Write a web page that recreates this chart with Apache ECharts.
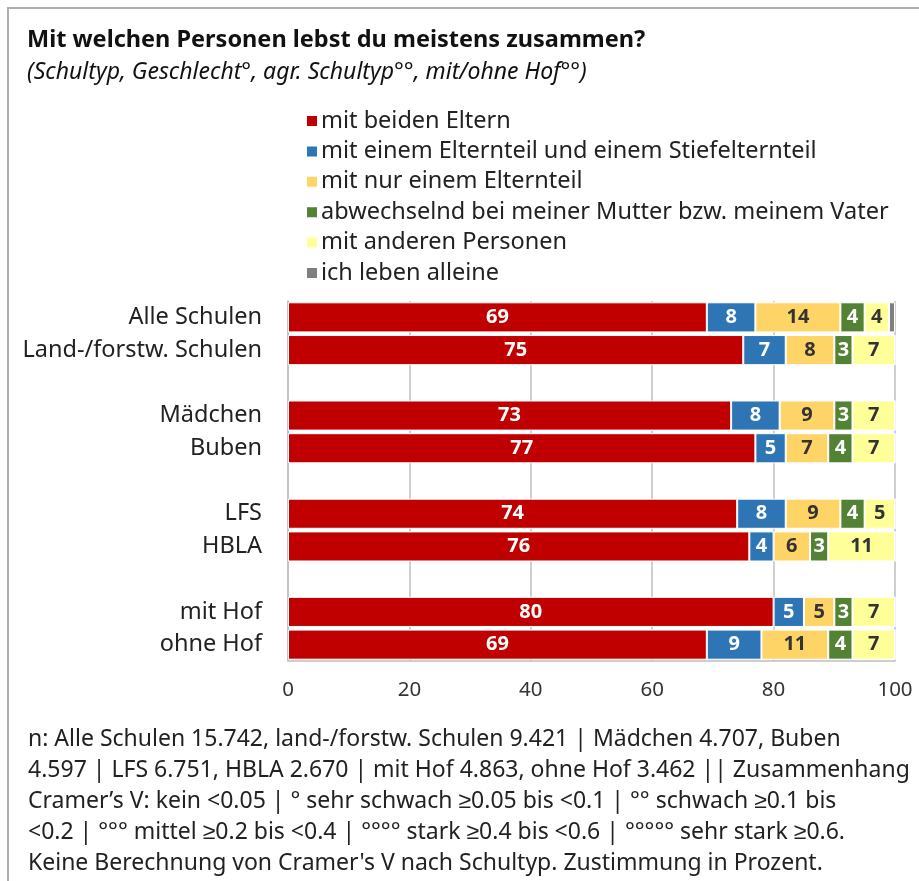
<!DOCTYPE html>
<html>
<head>
<meta charset="utf-8">
<script src="https://cdn.jsdelivr.net/npm/echarts@6/dist/echarts.min.js"></script>
<style>
  html, body { margin: 0; padding: 0; background: #fff; }
  #main { width: 919px; height: 881px; }
</style>
</head>
<body>
<div id="main"></div>
<script>
// Gruppen mit Leerzeilen dazwischen
const categories = ['Alle Schulen', 'Land-/forstw. Schulen', '', 'Mädchen', 'Buben', '', 'LFS', 'HBLA', '', 'mit Hof', 'ohne Hof']

const seriesNames = [
  'mit beiden Eltern',
  'mit einem Elternteil und einem Stiefelternteil',
  'mit nur einem Elternteil',
  'abwechselnd bei meiner Mutter bzw. meinem Vater',
  'mit anderen Personen',
  'ich leben alleine'
]

const beideEltern   = [69, 75, '-', 73, 77, '-', 74, 76, '-', 80, 69]
const stiefEltern   = [8, 7, '-', 8, 5, '-', 8, 4, '-', 5, 9]
const einElternteil = [14, 8, '-', 9, 7, '-', 9, 6, '-', 5, 11]
const abwechselnd   = [4, 3, '-', 3, 4, '-', 4, 3, '-', 3, 4]
const andere        = [4, 7, '-', 7, 7, '-', 5, 11, '-', 7, 7]
const alleine       = [1, 0, '-', 0, 0, '-', 0, 0, '-', 0, 0]

const xTicks = [0, 20, 40, 60, 80, 100]

const footer = [
  'n: Alle Schulen 15.742, land-/forstw. Schulen 9.421 | Mädchen 4.707, Buben',
  '4.597 | LFS 6.751, HBLA 2.670 | mit Hof 4.863, ohne Hof 3.462 || Zusammenhang',
  'Cramer’s V: kein <0.05 | ° sehr schwach ≥0.05 bis <0.1 | °° schwach ≥0.1 bis',
  '<0.2 | °°° mittel ≥0.2 bis <0.4 | °°°° stark ≥0.4 bis <0.6 | °°°°° sehr stark ≥0.6.',
  'Keine Berechnung von Cramer\'s V nach Schultyp. Zustimmung in Prozent.'
]

const colors = ['#C00000', '#2E75B6', '#FFD466', '#548235', '#FFFF99', '#7F7F7F']
const labelColors = ['#fff', '#fff', '#333', '#fff', '#333', '#333']
const font = '"Noto Sans", sans-serif'

const values = [beideEltern, stiefEltern, einElternteil, abwechselnd, andere, alleine]

const myChart = echarts.init(document.getElementById('main'))

const option = {
  animation: false,
  textStyle: { fontFamily: font },
  title: [{
    text: 'Mit welchen Personen lebst du meistens zusammen?',
    left: 22, top: 23,
    textStyle: { fontSize: 23.5, fontWeight: 'bold', color: '#111', fontFamily: font }
  }, {
    text: '(Schultyp, Geschlecht°, agr. Schultyp°°, mit/ohne Hof°°)',
    left: 22, top: 56,
    textStyle: { fontSize: 23, fontStyle: 'italic', fontWeight: 'normal', color: '#111', fontFamily: font }
  }],
  legend: {
    orient: 'vertical',
    left: 300, top: 104,
    itemWidth: 12, itemHeight: 12,
    itemGap: 6.4,
    icon: 'rect',
    data: seriesNames,
    textStyle: { fontSize: 23.5, lineHeight: 24, color: '#222', fontFamily: font, padding: [0, 0, 0, -2] }
  },
  grid: { left: 288, right: 24, top: 301, bottom: 220 },
  xAxis: {
    type: 'value',
    min: xTicks[0], max: xTicks[xTicks.length - 1], interval: 20,
    axisLine: { show: true, lineStyle: { color: '#BFBFBF', width: 1.5 } },
    axisTick: { show: false },
    splitLine: { lineStyle: { color: '#BFBFBF', width: 1.5 } },
    axisLabel: { fontSize: 20.5, color: '#333', margin: 19, fontFamily: font }
  },
  yAxis: {
    type: 'category',
    inverse: true,
    data: categories,
    axisLine: { show: true, lineStyle: { color: '#BFBFBF', width: 1.5 } },
    axisTick: { show: false },
    axisLabel: { fontSize: 23.5, color: '#222', margin: 26, fontFamily: font }
  },
  series: values.map(function (d, i) {
    return {
      name: seriesNames[i],
      type: 'bar',
      stack: 'total',
      barCategoryGap: '8%',
      data: d,
      itemStyle: { color: colors[i], borderColor: '#fff', borderWidth: 1 },
      label: {
        show: i < 5,
        position: 'inside',
        color: labelColors[i],
        fontSize: 20,
        fontWeight: 'bold',
        fontFamily: font,
        formatter: function (p) { return p.value ? p.value : '' }
      }
    }
  }),
  graphic: [
    { type: 'rect', shape: { x: 7, y: 7, width: 912, height: 2 }, style: { fill: '#B0B0B0' } },
    { type: 'rect', shape: { x: 7, y: 7, width: 2, height: 874 }, style: { fill: '#B0B0B0' } },
    {
      type: 'text', left: 28, top: 724,
      style: { text: footer.join('\n'), fontSize: 23, lineHeight: 31, fill: '#222', fontFamily: font }
    }
  ]
}
myChart.setOption(option)
</script>
</body>
</html>
